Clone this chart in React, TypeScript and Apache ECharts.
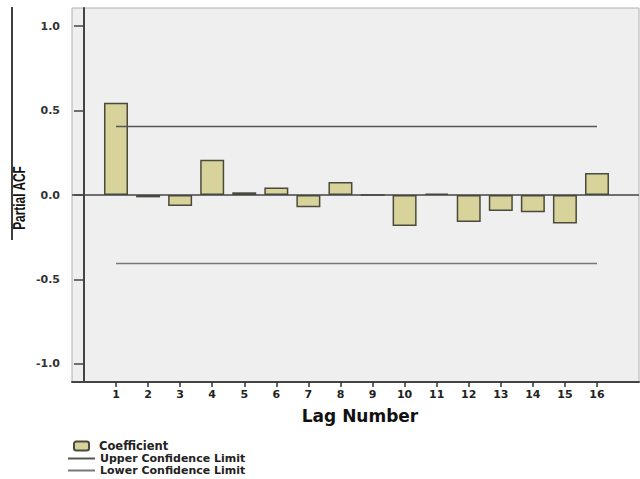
import React, { useEffect, useRef } from "react";
import * as echarts from "echarts";

const lags = [1, 2, 3, 4, 5, 6, 7, 8, 9, 10, 11, 12, 13, 14, 15, 16];
const coefficients = [0.546, -0.014, -0.065, 0.209, 0.016, 0.045, -0.073, 0.077, 0.0, -0.183, 0.008, -0.16, -0.095, -0.102, -0.168, 0.13];
const upperLimit = 0.405;
const lowerLimit = -0.405;
const yTicks = [-1.0, -0.5, 0.0, 0.5, 1.0];

const FONT = "'DejaVu Sans', 'Liberation Sans', sans-serif";

export default function App() {
  const ref = useRef<HTMLDivElement>(null);
  useEffect(() => {
    if (!ref.current) return;
    const chart = echarts.init(ref.current, null, { renderer: "svg" });
    const first = lags[0];
    const last = lags[lags.length - 1];
    chart.setOption({
      animation: false,
      backgroundColor: "#ffffff",
      grid: {
        left: 72,
        top: 8,
        right: 1,
        bottom: 97,
        show: true,
        backgroundColor: "#efefef",
        borderColor: "#b0b0b0",
        borderWidth: 1,
      },
      xAxis: {
        type: "value",
        min: -0.372,
        max: 17.31,
        axisLine: { show: true, onZero: false, lineStyle: { color: "#444", width: 2 } },
        axisTick: { show: true, customValues: lags, length: 5, lineStyle: { color: "#333", width: 1.5 } },
        axisLabel: {
          customValues: lags,
          formatter: (v: number) => String(v),
          margin: 7,
          fontFamily: FONT,
          fontWeight: "bold",
          fontSize: 11,
          color: "#222",
        },
        splitLine: { show: false },
      },
      yAxis: {
        type: "value",
        min: -1.107,
        max: 1.107,
        axisLine: { show: true, lineStyle: { color: "#444", width: 2 } },
        axisTick: { show: true, customValues: yTicks, length: 10, lineStyle: { color: "#444", width: 1.5 } },
        axisLabel: {
          customValues: yTicks,
          formatter: (v: number) => v.toFixed(1),
          margin: 12,
          fontFamily: FONT,
          fontWeight: "bold",
          fontSize: 11,
          color: "#333",
        },
        splitLine: { show: false },
      },
      legend: [
        {
          data: ["Coefficient"],
          orient: "vertical",
          left: 73,
          top: 440,
          padding: 0,
          itemWidth: 15,
          itemHeight: 9,
          textStyle: { fontFamily: FONT, fontWeight: "bold", fontSize: 11.5, lineHeight: 11, color: "#222", padding: [0, 0, 0, 5] },
        },
        {
          data: [
            { name: "Upper Confidence Limit", itemStyle: { opacity: 0, borderWidth: 0 } },
            { name: "Lower Confidence Limit", itemStyle: { opacity: 0, borderWidth: 0 } },
          ],
          orient: "vertical",
          left: 67,
          top: 453,
          height: 40,
          padding: 0,
          itemWidth: 27,
          itemHeight: 6,
          itemGap: 1,
          textStyle: { fontFamily: FONT, fontWeight: "bold", fontSize: 11, lineHeight: 11, color: "#222" },
        },
      ],
      graphic: [
        {
          type: "line",
          shape: { x1: 12, y1: 7, x2: 12, y2: 240 },
          style: { stroke: "#000", lineWidth: 1.5 },
        },
        {
          type: "text",
          x: 19,
          y: 198,
          rotation: Math.PI / 2,
          scaleX: 0.7,
          style: {
            text: "Partial ACF",
            fontFamily: "'Liberation Sans', sans-serif",
            fontWeight: "bold",
            fontSize: 17,
            fill: "#111",
            align: "center",
            verticalAlign: "middle",
          },
        },
        {
          type: "text",
          x: 360,
          y: 416,
          style: {
            text: "Lag Number",
            fontFamily: FONT,
            fontWeight: "bold",
            fontSize: 17,
            fill: "#111",
            align: "center",
            verticalAlign: "middle",
          },
        },
      ],
      series: [
        {
          name: "Coefficient",
          type: "bar",
          barWidth: 24,
          data: lags.map((l, i) => [l, coefficients[i]]),
          itemStyle: { color: "#d8d39b", borderColor: "#4a4a3c", borderWidth: 1.5 },
          markLine: {
            silent: true,
            symbol: "none",
            label: { show: false },
            lineStyle: { color: "#444", width: 1.5, type: "solid" },
            data: [{ yAxis: 0 }],
          },
        },
        {
          name: "Upper Confidence Limit",
          type: "line",
          symbol: "none",
          data: [[first, upperLimit], [last, upperLimit]],
          lineStyle: { color: "#555", width: 1.5 },
          itemStyle: { color: "#555" },
        },
        {
          name: "Lower Confidence Limit",
          type: "line",
          symbol: "none",
          data: [[first, lowerLimit], [last, lowerLimit]],
          lineStyle: { color: "#777", width: 1.5 },
          itemStyle: { color: "#777" },
        },
      ],
    });
    return () => chart.dispose();
  }, []);
  return <div ref={ref} style={{ width: 640, height: 479, position: "absolute", left: 0, top: 0 }} />;
}
